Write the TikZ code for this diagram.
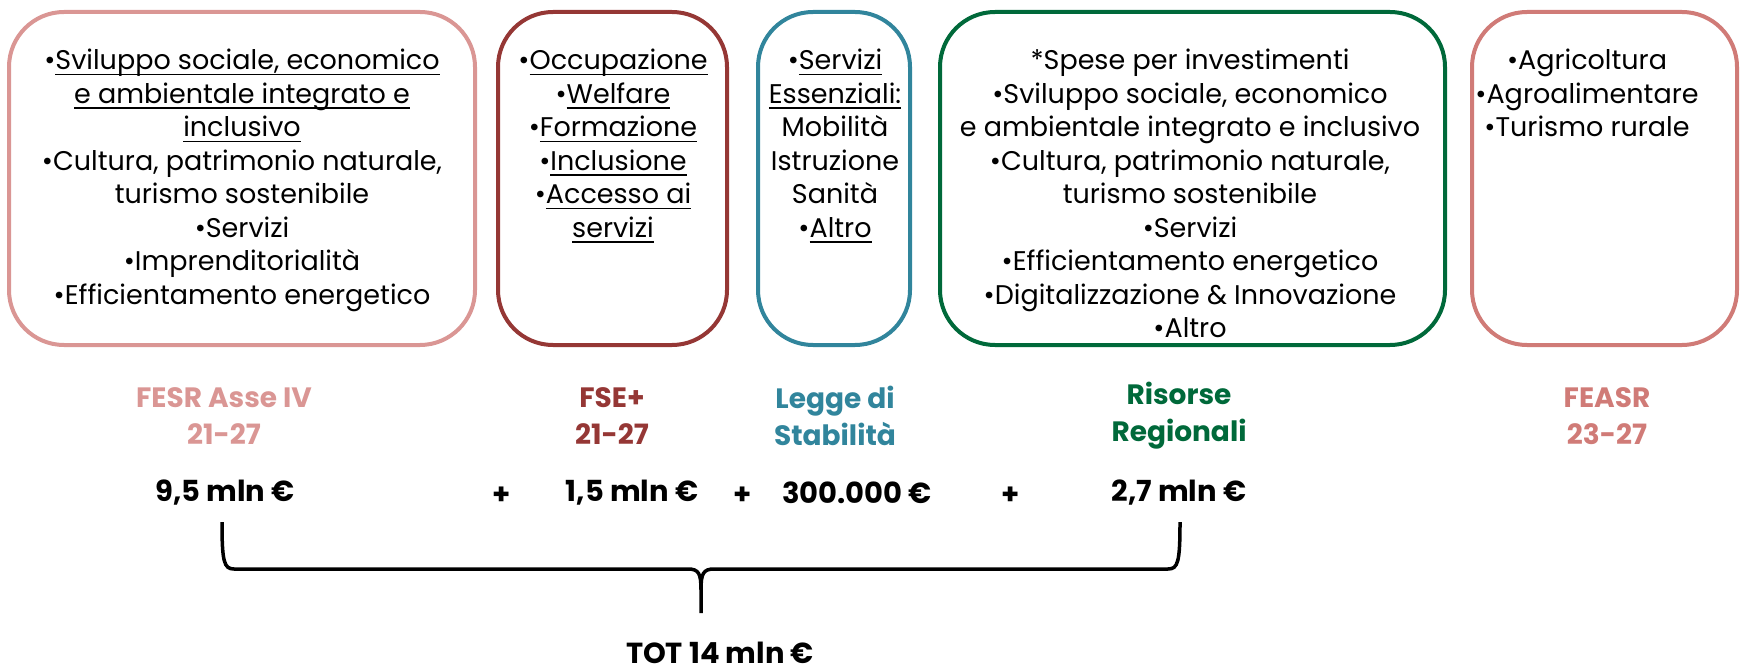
\documentclass[tikz,border=0pt]{standalone}
\usepackage{fontspec}
\setmainfont{Poppins}
\usetikzlibrary{positioning}

\definecolor{fesrpink}{HTML}{DA9694}
\definecolor{fsered}{HTML}{953735}
\definecolor{leggeblue}{HTML}{31859C}
\definecolor{regreen}{HTML}{00693A}
\definecolor{feasrpink}{HTML}{D07B77}

\newsavebox{\undlbox}
\newcommand{\undl}[1]{\sbox{\undlbox}{#1}\rlap{\rule[-5.5pt]{\wd\undlbox}{1.4pt}}\usebox{\undlbox}}

\tikzset{
	fundbox/.style={draw, line width=4pt, rounded corners=55pt, inner sep=0pt},
	itemtxt/.style={align=center, anchor=north, inner sep=0pt, font=\fontsize{27}{33.5}\selectfont},
	fundlabel/.style={align=center, inner sep=0pt, font=\bfseries\fontsize{28}{37}\selectfont},
	amount/.style={inner sep=0pt, font=\bfseries\fontsize{29}{34}\selectfont},
}

\begin{document}
\begin{tikzpicture}[x=1pt,y=-1pt]
	\useasboundingbox (0,0) rectangle (1740,671);
	
	% boxes
	\node[fundbox, draw=fesrpink, minimum width=466pt, minimum height=333pt] (B1) at (242,178.5) {};
	\node[fundbox, draw=fsered, minimum width=229pt, minimum height=333pt] (B2) at (612.5,178.5) {};
	\node[fundbox, draw=leggeblue, minimum width=152pt, minimum height=333pt] (B3) at (834,178.5) {};
	\node[fundbox, draw=regreen, minimum width=505pt, minimum height=333pt] (B4) at (1192.5,178.5) {};
	\node[fundbox, draw=feasrpink, minimum width=265pt, minimum height=333pt] (B5) at (1604.5,178.5) {};
	
	\node[itemtxt] (T1) at (242,49) {\textbullet\undl{Sviluppo sociale, economico}\\
		\undl{e ambientale integrato e}\\
		\undl{inclusivo}\\
		\textbullet Cultura, patrimonio naturale,\\
		turismo sostenibile\\
		\textbullet Servizi\\
		\textbullet Imprenditorialità\\
		\textbullet Efficientamento energetico};
	\node[itemtxt] (T2) at (613,49) {\textbullet\undl{Occupazione}\\
		\textbullet\undl{Welfare}\\
		\textbullet\undl{Formazione}\\
		\textbullet\undl{Inclusione}\\
		\textbullet\undl{Accesso ai}\\
		\undl{servizi}};
	\node[itemtxt] (T3) at (835,49) {\textbullet\undl{Servizi}\\
		\undl{Essenziali:}\\
		Mobilità\\
		Istruzione\\
		Sanità\\
		\textbullet\undl{Altro}};
	\node[itemtxt] (T4) at (1190,49) {*Spese per investimenti\\
		\textbullet Sviluppo sociale, economico\\
		e ambientale integrato e inclusivo\\
		\textbullet Cultura, patrimonio naturale,\\
		turismo sostenibile\\
		\textbullet Servizi\\
		\textbullet Efficientamento energetico\\
		\textbullet Digitalizzazione \& Innovazione\\
		\textbullet Altro};
	\node[itemtxt] (T5) at (1587,49) {\textbullet Agricoltura\\
		\textbullet Agroalimentare\\
		\textbullet Turismo rurale};
	
	% labels
	\node[fundlabel, text=fesrpink] (L1) at (224,416) {FESR Asse IV\\21-27};
	\node[fundlabel, text=fsered] (L2) at (612,416) {FSE+\\21-27};
	\node[fundlabel, text=leggeblue] (L3) at (835,416) {Legge di\\Stabilità};
	\node[fundlabel, text=regreen] (L4) at (1179,416) {Risorse\\Regionali};
	\node[fundlabel, text=feasrpink] (L5) at (1607,416) {FEASR\\23-27};
	
	% amounts
	\node[amount] (A1) at (225,493) {9,5 mln €};
	\node[amount] (P1) at (502,496) {+};
	\node[amount] (A2) at (632,493) {1,5 mln €};
	\node[amount] (P2) at (743,496) {+};
	\node[amount] (A3) at (857,493) {300.000 €};
	\node[amount] (P3) at (1011,496) {+};
	\node[amount] (A4) at (1179,493) {2,7 mln €};
	
	\node[amount] (TOT) at (720,653) {TOT 14 mln €};
	
	% brace
	\coordinate (bl) at (222,522);
	\coordinate (br) at (1180,522);
	\coordinate (bt) at (701,613);
	\draw[line width=3.5pt] (bl) .. controls (222,562) and (224,569) .. (234,569) -- (688,569)
		.. controls (699,569) and (701,574) .. (701,590) -- (bt);
	\draw[line width=3.5pt] (br) .. controls (1180,562) and (1178,569) .. (1168,569) -- (714,569)
		.. controls (703,569) and (701,574) .. (701,590);
	
\end{tikzpicture}
\end{document}
